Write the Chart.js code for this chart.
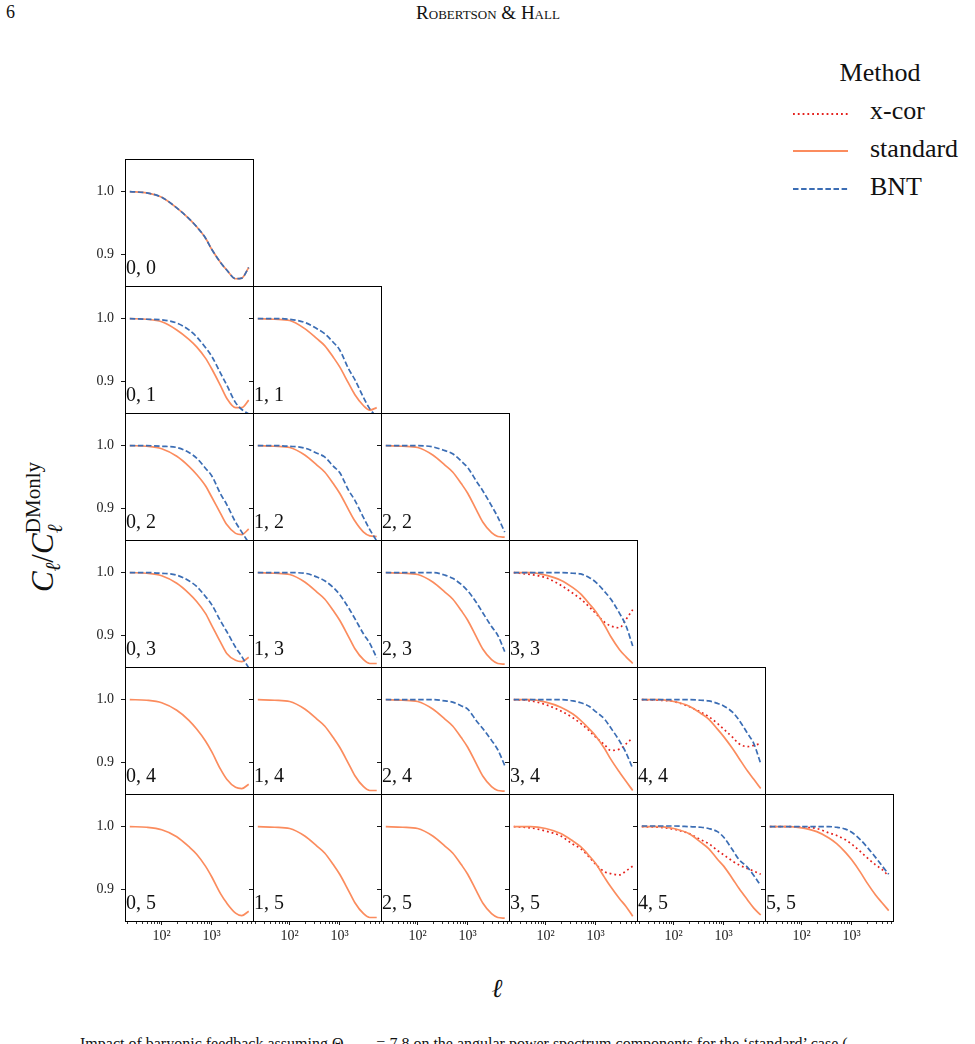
<!DOCTYPE html>
<html>
<head>
<meta charset="utf-8">
<script src="https://cdn.jsdelivr.net/npm/chart.js@4.4.0/dist/chart.umd.min.js"></script>
<style>
  html, body { margin: 0; padding: 0; background: #fff; }
  #page { position: relative; width: 975px; height: 1044px; overflow: hidden; font-family: "Liberation Serif", serif; color: #111; }
  #page canvas { position: absolute; }
  .txt { position: absolute; white-space: nowrap; }
  .ss { display: inline-block; vertical-align: -0.45em; line-height: 1.05; font-size: 0.68em; }
  .ss span { display: block; }
</style>
</head>
<body>
<div id="page">
  <div class="txt" style="left:6px; top:2px; font-size:18px;">6</div>
  <div class="txt" style="left:488px; top:2px; font-size:19px; transform:translateX(-50%); font-variant:small-caps;">Robertson &amp; Hall</div>

  <div class="txt" style="left:880px; top:58px; font-size:26px; transform:translateX(-50%);">Method</div>
  <svg class="txt" style="left:790px; top:100px;" width="62" height="100">
    <line x1="3" y1="14" x2="58" y2="14" stroke="#e4211c" stroke-width="1.8" stroke-dasharray="1.8 3"/>
    <line x1="3" y1="51" x2="58" y2="51" stroke="#fb8c5e" stroke-width="1.8"/>
    <line x1="3" y1="89" x2="58" y2="89" stroke="#3b6db4" stroke-width="1.8" stroke-dasharray="5.5 2.6"/>
  </svg>
  <div class="txt" style="left:870px; top:96px; font-size:26px;">x-cor</div>
  <div class="txt" style="left:870px; top:134px; font-size:26px;">standard</div>
  <div class="txt" style="left:870px; top:172px; font-size:26px;">BNT</div>

  <div class="txt" style="left:44px; top:527px; font-size:31px; transform:translate(-50%,-50%) rotate(-90deg);">
    <i>C</i><sub style="font-size:0.68em"><i>ℓ</i></sub>/<i>C</i><span class="ss"><span>DMonly</span><span><i>ℓ</i></span></span>
  </div>
  <div class="txt" style="left:497px; top:974px; font-size:26px; transform:translateX(-50%);"><i>ℓ</i></div>

  <div class="txt" style="left:80px; top:1035px; font-size:16px;">Impact of baryonic feedback assuming Θ<sub>AGN</sub> = 7.8 on the angular power spectrum components for the ‘standard’ case (</div>
</div>

<script>
// multipoles sampled along each curve
const ell = [23, 50, 100, 200, 350, 500, 750, 1000, 1500, 2000, 3000, 4000, 5500];

const std00 = [1.000, 0.998, 0.991, 0.974, 0.957, 0.944, 0.926, 0.908, 0.887, 0.875, 0.861, 0.862, 0.879];
const bnt00 = [1.000, 0.998, 0.991, 0.974, 0.957, 0.944, 0.926, 0.908, 0.887, 0.875, 0.861, 0.862, 0.879];

const std01 = [1.000, 0.999, 0.995, 0.982, 0.967, 0.955, 0.937, 0.920, 0.893, 0.873, 0.858, 0.858, 0.870];
const bnt01 = [1.000, 0.999, 0.998, 0.993, 0.982, 0.971, 0.954, 0.940, 0.913, 0.894, 0.866, 0.855, 0.848];
const std11 = [1.000, 0.999, 0.997, 0.984, 0.968, 0.957, 0.938, 0.923, 0.897, 0.879, 0.861, 0.854, 0.858];
const bnt11 = [1.000, 1.000, 0.999, 0.994, 0.984, 0.976, 0.962, 0.950, 0.920, 0.903, 0.874, 0.856, 0.843];

const std02 = [1.000, 0.999, 0.995, 0.983, 0.967, 0.954, 0.936, 0.918, 0.892, 0.874, 0.860, 0.858, 0.867];
const bnt02 = [1.000, 1.000, 0.999, 0.997, 0.989, 0.980, 0.964, 0.952, 0.923, 0.906, 0.878, 0.862, 0.845];
const std12 = [1.000, 0.999, 0.997, 0.985, 0.969, 0.958, 0.939, 0.924, 0.898, 0.880, 0.862, 0.856, 0.855];
const bnt12 = [1.000, 1.000, 0.999, 0.996, 0.988, 0.982, 0.967, 0.957, 0.929, 0.913, 0.885, 0.866, 0.848];
const std22 = [1.000, 0.999, 0.997, 0.985, 0.969, 0.958, 0.939, 0.924, 0.897, 0.878, 0.861, 0.855, 0.854];
const bnt22 = [1.000, 1.000, 1.000, 0.998, 0.992, 0.987, 0.975, 0.965, 0.943, 0.928, 0.904, 0.886, 0.862];

const std03 = [1.000, 0.999, 0.995, 0.983, 0.967, 0.954, 0.935, 0.916, 0.889, 0.871, 0.860, 0.858, 0.865];
const bnt03 = [1.000, 1.000, 0.999, 0.996, 0.987, 0.978, 0.962, 0.949, 0.923, 0.906, 0.881, 0.866, 0.848];
const std13 = [1.000, 0.999, 0.997, 0.985, 0.969, 0.958, 0.939, 0.924, 0.898, 0.879, 0.861, 0.855, 0.855];
const bnt13 = [1.000, 1.000, 1.000, 0.999, 0.993, 0.987, 0.976, 0.965, 0.944, 0.927, 0.902, 0.887, 0.864];
const std23 = [1.000, 0.999, 0.997, 0.985, 0.969, 0.958, 0.939, 0.924, 0.897, 0.878, 0.861, 0.855, 0.854];
const bnt23 = [1.000, 1.000, 1.000, 1.000, 0.996, 0.991, 0.981, 0.971, 0.952, 0.936, 0.914, 0.900, 0.874];
const std33 = [1.000, 1.000, 0.996, 0.988, 0.976, 0.966, 0.950, 0.938, 0.916, 0.898, 0.877, 0.866, 0.855];
const xcor33 = [1.000, 0.997, 0.992, 0.980, 0.967, 0.958, 0.945, 0.935, 0.921, 0.915, 0.912, 0.925, 0.941];
const bnt33 = [1.000, 1.000, 1.000, 1.000, 0.999, 0.998, 0.992, 0.985, 0.970, 0.958, 0.935, 0.916, 0.883];

const std04 = [1.000, 0.999, 0.995, 0.983, 0.967, 0.953, 0.934, 0.917, 0.889, 0.873, 0.860, 0.858, 0.865];
const std14 = [1.000, 0.999, 0.997, 0.985, 0.969, 0.958, 0.939, 0.924, 0.898, 0.879, 0.861, 0.855, 0.855];
const std24 = [1.000, 0.999, 0.997, 0.985, 0.969, 0.958, 0.939, 0.924, 0.897, 0.878, 0.861, 0.855, 0.854];
const bnt24 = [1.000, 1.000, 1.000, 1.000, 0.998, 0.996, 0.990, 0.985, 0.966, 0.954, 0.935, 0.920, 0.895];
const std34 = [1.000, 1.000, 0.996, 0.988, 0.977, 0.967, 0.953, 0.942, 0.922, 0.905, 0.884, 0.870, 0.855];
const xcor34 = [1.000, 0.998, 0.992, 0.982, 0.971, 0.962, 0.950, 0.940, 0.928, 0.919, 0.921, 0.929, 0.939];
const bnt34 = [1.000, 1.000, 1.000, 1.000, 0.998, 0.995, 0.989, 0.981, 0.969, 0.955, 0.934, 0.916, 0.890];
const std44 = [1.000, 1.000, 0.997, 0.990, 0.978, 0.969, 0.953, 0.941, 0.922, 0.907, 0.886, 0.873, 0.858];
const xcor44 = [1.000, 0.999, 0.997, 0.989, 0.980, 0.973, 0.962, 0.953, 0.940, 0.930, 0.925, 0.927, 0.930];
const bnt44 = [1.000, 1.000, 1.000, 1.000, 0.999, 0.998, 0.994, 0.990, 0.980, 0.968, 0.946, 0.930, 0.898];

const std05 = [1.000, 0.999, 0.995, 0.984, 0.968, 0.956, 0.937, 0.920, 0.893, 0.878, 0.862, 0.858, 0.865];
const std15 = [1.000, 0.999, 0.997, 0.985, 0.969, 0.958, 0.939, 0.924, 0.898, 0.879, 0.861, 0.855, 0.855];
const std25 = [1.000, 0.999, 0.997, 0.985, 0.969, 0.958, 0.939, 0.924, 0.897, 0.878, 0.861, 0.855, 0.854];
const std35 = [1.000, 1.000, 0.997, 0.989, 0.977, 0.968, 0.953, 0.941, 0.919, 0.904, 0.885, 0.873, 0.857];
const xcor35 = [1.000, 0.998, 0.993, 0.985, 0.972, 0.965, 0.951, 0.940, 0.928, 0.925, 0.923, 0.929, 0.937];
const std45 = [1.000, 1.000, 0.997, 0.989, 0.975, 0.965, 0.948, 0.937, 0.917, 0.902, 0.883, 0.870, 0.859];
const xcor45 = [1.000, 0.999, 0.996, 0.989, 0.979, 0.973, 0.962, 0.955, 0.945, 0.939, 0.933, 0.929, 0.924];
const bnt45 = [1.001, 1.001, 1.001, 1.000, 0.999, 0.997, 0.992, 0.983, 0.963, 0.948, 0.935, 0.922, 0.906];
const std55 = [1.000, 1.000, 0.998, 0.992, 0.982, 0.973, 0.959, 0.947, 0.927, 0.911, 0.891, 0.879, 0.866];
const xcor55 = [1.000, 1.000, 0.999, 0.997, 0.990, 0.986, 0.979, 0.972, 0.960, 0.951, 0.939, 0.932, 0.921];
const bnt55 = [1.000, 1.000, 1.000, 1.000, 1.000, 0.999, 0.996, 0.991, 0.979, 0.968, 0.951, 0.938, 0.924];

// axis ticks
const xMajor = [100, 1000];
const xMajorLabels = ['10²', '10³'];
const xMinor = [20, 30, 40, 50, 60, 70, 80, 90, 200, 300, 400, 500, 600, 700, 800, 900, 2000, 3000, 4000, 5000, 6000];
const yTicks = [0.9, 1.0];

const panels = [
  { i: 0, j: 0, std: std00, bnt: bnt00 },
  { i: 0, j: 1, std: std01, bnt: bnt01 },
  { i: 1, j: 1, std: std11, bnt: bnt11 },
  { i: 0, j: 2, std: std02, bnt: bnt02 },
  { i: 1, j: 2, std: std12, bnt: bnt12 },
  { i: 2, j: 2, std: std22, bnt: bnt22 },
  { i: 0, j: 3, std: std03, bnt: bnt03 },
  { i: 1, j: 3, std: std13, bnt: bnt13 },
  { i: 2, j: 3, std: std23, bnt: bnt23 },
  { i: 3, j: 3, std: std33, bnt: bnt33, xcor: xcor33 },
  { i: 0, j: 4, std: std04 },
  { i: 1, j: 4, std: std14 },
  { i: 2, j: 4, std: std24, bnt: bnt24 },
  { i: 3, j: 4, std: std34, bnt: bnt34, xcor: xcor34 },
  { i: 4, j: 4, std: std44, bnt: bnt44, xcor: xcor44 },
  { i: 0, j: 5, std: std05 },
  { i: 1, j: 5, std: std15 },
  { i: 2, j: 5, std: std25 },
  { i: 3, j: 5, std: std35, xcor: xcor35 },
  { i: 4, j: 5, std: std45, bnt: bnt45, xcor: xcor45 },
  { i: 5, j: 5, std: std55, bnt: bnt55, xcor: xcor55 },
];

const colLeft = [125, 253, 381, 509, 637, 765];
const rowTop = [159, 286, 413, 540, 667, 794];
const PW = 128, PH = 127;
const xMin = 18.45, xMax = 6700;
const yMin = 0.8494, yMax = 1.0521;

const RED = '#e4211c', ORANGE = '#fb8c5e', BLUE = '#3b6db4';
const FONT = '"Liberation Serif", serif';

const page = document.getElementById('page');

// frame, minor ticks and the "i, j" tag of each panel
const panelDecor = {
  id: 'panelDecor',
  afterDraw(chart, args, opts) {
    const { ctx, chartArea: a } = chart;
    ctx.save();
    ctx.strokeStyle = '#000';
    ctx.lineWidth = 1;
    ctx.strokeRect(Math.round(a.left) + 0.5, Math.round(a.top) + 0.5, PW, PH);
    if (opts.minor) {
      const xs = chart.scales.x;
      ctx.beginPath();
      xMinor.forEach(v => {
        const px = Math.round(xs.getPixelForValue(v)) + 0.5;
        ctx.moveTo(px, Math.round(a.bottom) + 1);
        ctx.lineTo(px, Math.round(a.bottom) + 3);
      });
      ctx.lineWidth = 0.8;
      ctx.stroke();
    }
    ctx.fillStyle = '#111';
    ctx.font = '20px ' + FONT;
    ctx.textBaseline = 'alphabetic';
    ctx.fillText(opts.label, a.left + 1, a.bottom - 12);
    ctx.restore();
  }
};

function pts(vals) {
  return ell.map((l, k) => ({ x: l, y: vals[k] }));
}

function makePanel(p) {
  const first = p.i === 0, last = p.j === 5;
  // extra canvas room so tick-label padding never eats into the plot area
  const L = first ? 50 : 10, R = 10, T = 22, B = last ? 40 : 22;
  const cv = document.createElement('canvas');
  cv.width = L + PW + R;
  cv.height = T + PH + B;
  cv.style.left = (colLeft[p.i] - L) + 'px';
  cv.style.top = (rowTop[p.j] - T) + 'px';
  page.appendChild(cv);

  const sets = [];
  if (p.bnt) sets.push({ label: 'BNT', data: pts(p.bnt), borderColor: BLUE, borderDash: [5.5, 2.6], order: 0 });
  sets.push({ label: 'standard', data: pts(p.std), borderColor: ORANGE, order: 1 });
  if (p.xcor) sets.push({ label: 'x-cor', data: pts(p.xcor), borderColor: RED, borderDash: [1.8, 3], order: 2 });

  new Chart(cv, {
    type: 'line',
    data: {
      datasets: sets.map(d => Object.assign({
        borderWidth: 1.7, pointRadius: 0, fill: false,
        cubicInterpolationMode: 'monotone', borderCapStyle: 'butt'
      }, d))
    },
    options: {
      responsive: false,
      animation: false,
      devicePixelRatio: 1,
      events: [],
      layout: { padding: { left: 0, right: R, top: T, bottom: last ? 0 : B } },
      plugins: {
        legend: { display: false },
        tooltip: { enabled: false },
        panelDecor: { label: p.i + ', ' + p.j, minor: last }
      },
      scales: {
        x: {
          type: 'logarithmic', min: xMin, max: xMax, display: last,
          afterBuildTicks: s => { s.ticks = xMajor.map(v => ({ value: v })); },
          afterFit: s => { s.height = last ? B : 0; },
          border: { display: false },
          grid: { drawOnChartArea: false, drawTicks: true, tickLength: 4, color: '#000', lineWidth: 0.9 },
          ticks: {
            autoSkip: false, maxRotation: 0, padding: 3, color: '#222',
            font: { family: FONT, size: 14 },
            callback: v => xMajorLabels[xMajor.indexOf(v)]
          }
        },
        y: {
          type: 'linear', min: yMin, max: yMax,
          afterBuildTicks: s => { s.ticks = yTicks.map(v => ({ value: v })); },
          afterFit: s => { s.width = L; },
          border: { display: false },
          grid: { drawOnChartArea: false, drawTicks: true, tickLength: 4, color: '#000', lineWidth: 0.9 },
          ticks: {
            display: first, padding: 7, color: '#222',
            font: { family: FONT, size: 14 },
            callback: v => v.toFixed(1)
          }
        }
      }
    },
    plugins: [panelDecor]
  });
}

panels.forEach(makePanel);
</script>
</body>
</html>
